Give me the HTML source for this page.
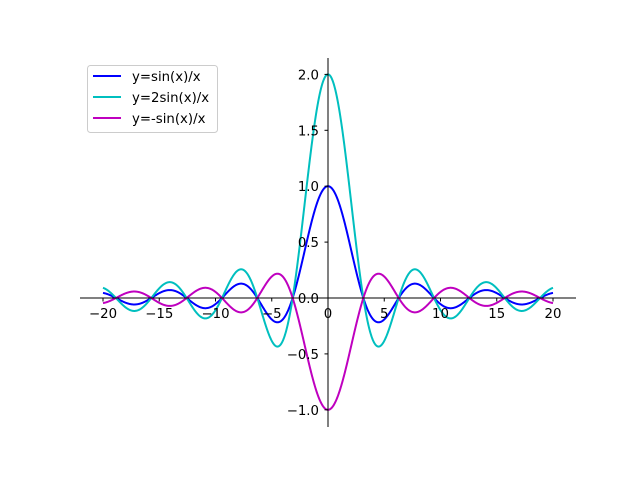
<!DOCTYPE html>
<html><head><meta charset="utf-8"><style>
html,body{margin:0;padding:0;background:#fff;}
svg text{font-family:"DejaVu Sans","Liberation Sans",sans-serif;font-size:13.3px;fill:#000;}
</style></head><body>
<svg id="s" width="640" height="480" viewBox="0 0 640 480" xmlns="http://www.w3.org/2000/svg">
<rect width="640" height="480" fill="#fff"/>
<g id="curves" fill="none" stroke-width="2" stroke-linejoin="round"></g>
<line x1="80" y1="298" x2="576" y2="298" stroke="#000" stroke-width="1"/>
<line x1="328" y1="58" x2="328" y2="427" stroke="#000" stroke-width="1"/>
<g id="ticks" stroke="#000" stroke-width="1"></g>
<g id="labels"></g>
<g>
<rect x="87.5" y="65.5" width="130" height="67" rx="3" fill="#fff" fill-opacity="0.8" stroke="#ccc"/>
<line x1="93" y1="76" x2="121" y2="76" stroke="#0000ff" stroke-width="2"/>
<text x="132" y="81">y=sin(x)/x</text>
<line x1="93" y1="97" x2="121" y2="97" stroke="#00bfbf" stroke-width="2"/>
<text x="132" y="102">y=2sin(x)/x</text>
<line x1="93" y1="118" x2="121" y2="118" stroke="#bf00bf" stroke-width="2"/>
<text x="132" y="123">y=-sin(x)/x</text>
</g>
</svg>
<script>
var NS="http://www.w3.org/2000/svg";
function X(x){return 328+x*11.25;}
function Y(y){return 298-y*111.8;}
var g=document.getElementById("curves");
[[1,"#0000ff"],[2,"#00bfbf"],[-1,"#bf00bf"]].forEach(function(c){
 var d="";
 for(var i=0;i<=2000;i++){var x=-20+40*i/2000;var y=Math.abs(x)<1e-9?1:Math.sin(x)/x;y*=c[0];
 d+=(i?"L":"M")+X(x).toFixed(2)+" "+Y(y).toFixed(2);}
 var p=document.createElementNS(NS,"path");p.setAttribute("d",d);p.setAttribute("stroke",c[1]);g.appendChild(p);
});
var t=document.getElementById("ticks"),l=document.getElementById("labels");
function txt(x,y,s,a){var e=document.createElementNS(NS,"text");e.setAttribute("x",x);e.setAttribute("y",y);e.setAttribute("text-anchor",a);e.textContent=s;l.appendChild(e);}
function ln(a,b,c,d){var e=document.createElementNS(NS,"line");e.setAttribute("x1",a);e.setAttribute("y1",b);e.setAttribute("x2",c);e.setAttribute("y2",d);t.appendChild(e);}
for(var v=-20;v<=20;v+=5){var x=X(v);ln(x,298,x,301.5);txt(x,318,(v<0?"\u2212"+(-v):""+v),"middle");}
for(var v=-1;v<=2.001;v+=0.5){var y=Y(v);ln(324.5,y,328,y);var s=(v<0?"\u2212":"")+Math.abs(v).toFixed(1);txt(319,y+5,s,"end");}
</script>
</body></html>
